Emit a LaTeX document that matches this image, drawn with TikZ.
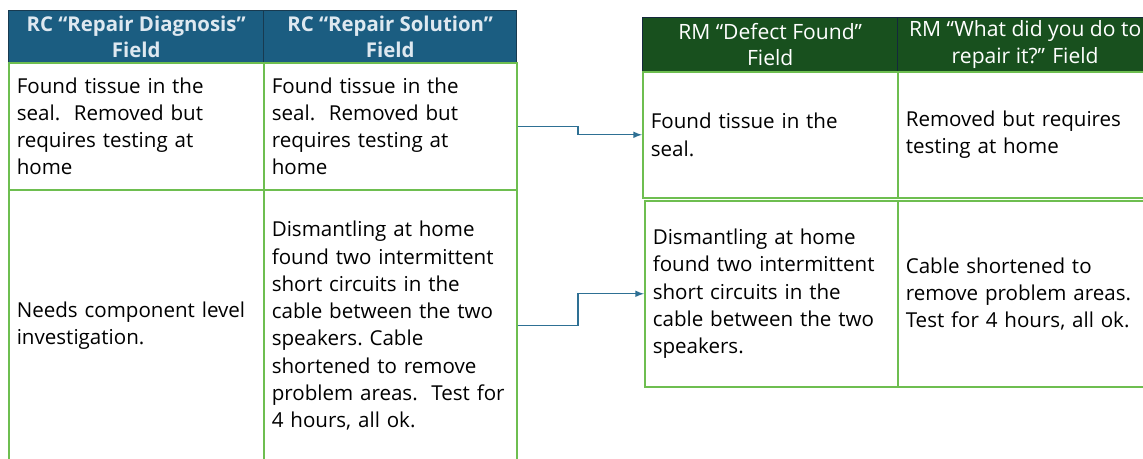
\documentclass[tikz,border=0pt]{standalone}
\usepackage{fontspec}
\setmainfont{Open Sans}
\usetikzlibrary{positioning,calc}
\usetikzlibrary{shapes,arrows}

\definecolor{rcblue}{RGB}{27,93,129}
\definecolor{rcedge}{RGB}{24,58,80}
\definecolor{rmgreen}{RGB}{24,80,30}
\definecolor{rmedge}{RGB}{20,40,60}
\definecolor{cellgreen}{RGB}{110,190,80}
\definecolor{headtext}{RGB}{222,232,240}
\definecolor{linkblue}{RGB}{46,112,148}

\tikzset{
  rchead/.style={draw=rcedge, fill=rcblue, text=headtext, line width=0.8pt, anchor=north west,
    align=center, minimum height=1.04cm, inner sep=0pt, font=\bfseries\fontsize{11.6}{14.8}\selectfont},
  rmhead/.style={draw=rmedge, fill=rmgreen, text=white, line width=0.8pt, anchor=north west,
    align=center, minimum height=1.08cm, inner sep=0pt, font=\fontsize{12}{15}\selectfont},
  cell/.style={draw=cellgreen, line width=0.9pt, anchor=north west, align=left,
    inner xsep=0.16cm, inner ysep=0pt, text width=4.78cm, minimum width=5.1cm,
    font=\frenchspacing\fontsize{11.7}{15.5}\selectfont},
  link/.style={draw=linkblue, line width=0.7pt, -latex}
}

\begin{document}
\begin{tikzpicture}[x=0.02cm,y=-0.02cm]
\useasboundingbox (0,0) rectangle (1143,459);
\coordinate (StepX) at (578,0);

% RC table
\node[rchead, minimum width=5.1cm] (rcDiag) at (8,10) {RC “Repair Diagnosis”\\Field};
\node[rchead, minimum width=5.06cm] (rcSol) at (263,10) {RC “Repair Solution”\\Field};
\node[cell, minimum height=2.54cm] (diagA) at (8,62) {Found tissue in the\\seal.\ \ Removed but\\requires testing at\\home};
\node[cell, minimum height=2.54cm, minimum width=5.06cm, text width=4.74cm] (solA) at (263,62) {Found tissue in the\\seal.\ \ Removed but\\requires testing at\\home};
\node[cell, minimum height=5.44cm] (diagB) at (8,189) {Needs component level\\investigation.};
\node[cell, minimum height=5.44cm, minimum width=5.06cm, text width=4.74cm] (solB) at (263,189) {Dismantling at home\\found two intermittent\\short circuits in the\\cable between the two\\speakers. Cable\\shortened to remove\\problem areas.\ \ Test for\\4 hours, all ok.};

% RM table
\node[rmhead, minimum width=5.1cm] (rmDefect) at (642,17) {RM “Defect Found”\\Field};
\node[rmhead, minimum width=5.1cm] (rmRepair) at (897,17) {RM “What did you do to\\repair it?” Field};
\node[cell, minimum height=2.52cm] (defA) at (642,71) {Found tissue in the\\seal.};
\node[cell, minimum height=2.52cm] (fixA) at (897,71) {Removed but requires\\testing at home};
\node[cell, minimum height=3.72cm, minimum width=5.06cm, text width=4.74cm] (defB) at (644,200) {Dismantling at home\\found two intermittent\\short circuits in the\\cable between the two\\speakers.};
\node[cell, minimum height=3.72cm] (fixB) at (897,200) {Cable shortened to\\remove problem areas.\\Test for 4 hours, all ok.};

\draw[link] (solA.east) -- (solA.east -| StepX) |- (defA.west);
\draw[link] (solB.east) -- (solB.east -| StepX) |- (defB.west);
\end{tikzpicture}
\end{document}
